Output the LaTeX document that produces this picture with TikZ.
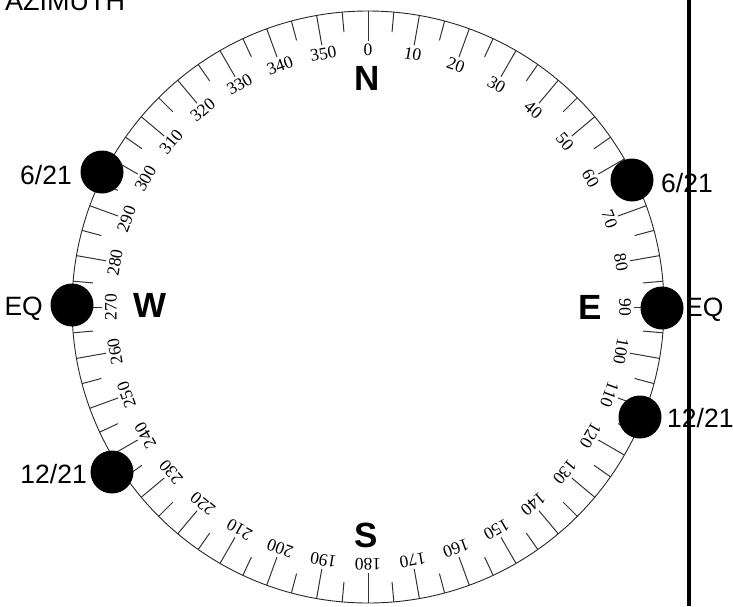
\documentclass[tikz,border=0pt]{standalone}
\usepackage{fontspec}
\setmainfont{Liberation Sans}
\newfontfamily\dialfont{Liberation Serif}
\usetikzlibrary{calc}
\begin{document}
\begin{tikzpicture}[x=1pt,y=1pt,
  dial/.style={draw=black!85, line width=0.9pt},
  tickmark/.style={draw=black!80, line width=1pt},
  dialnum/.style={font=\dialfont\fontsize{17.5}{17.5}\selectfont, inner sep=0pt},
  cardinal/.style={font=\fontsize{35}{35}\selectfont\bfseries, inner sep=0pt},
  datelabel/.style={font=\fontsize{26.5}{26.5}\selectfont, inner sep=0pt, anchor=base west},
  datelabelr/.style={font=\fontsize{26.5}{26.5}\selectfont, inner sep=0pt, anchor=base east},
  sundot/.style={circle, fill=black, minimum size=43pt, inner sep=0pt},
  divider/.style={draw=black, line width=3.2pt}]
\useasboundingbox (0,0) rectangle (733,-606);
\coordinate (C) at (368,-307);
\draw[dial] (C) circle (296);
\foreach \a in {0,5,...,355}{
  \pgfmathsetmacro\len{mod(\a,10)==0 ? 30 : 20}
  \draw[tickmark] ($(C)+(90-\a:296)$) -- ($(C)+(90-\a:{296-\len})$);
}
\foreach \a in {0,10,...,350}{
  \node[dialnum, rotate=-\a] (n\a) at ($(C)+(90-\a:257)$) {\a};
}
\node[cardinal] (N) at (367,-78) {N};
\node[cardinal] (S) at (366.5,-535) {S};
\node[cardinal] (W) at (150,-305) {W};
\node[cardinal] (E) at (590,-307) {E};
\node[font=\fontsize{27}{27}\selectfont, inner sep=0pt, anchor=base west] (title) at (5,-10) {AZIMUTH};
\node[sundot] (dR1) at (632,-180) {};
\node[sundot] (dR2) at (662,-308) {};
\node[sundot] (dR3) at (640,-417) {};
\node[sundot] (dL1) at (102,-172) {};
\node[sundot] (dL2) at (72,-305) {};
\node[sundot] (dL3) at (112,-472) {};
\node[datelabel] (tR1) at (661,-192) {6/21};
\node[datelabel] (tR2) at (685,-316) {EQ};
\node[datelabel] (tR3) at (667,-427) {12/21};
\node[datelabelr] (tL1) at (72,-184) {6/21};
\node[datelabelr] (tL2) at (43,-315) {EQ};
\node[datelabelr] (tL3) at (87,-483) {12/21};
\coordinate (vtop) at (689,0);
\coordinate (vbot) at (689,-606);
\draw[divider] (vtop) -- (vbot);
\end{tikzpicture}
\end{document}
